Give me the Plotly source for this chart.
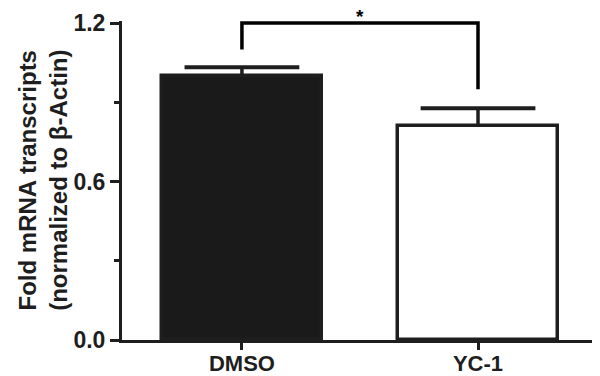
import plotly.graph_objects as go

categories = ["DMSO", "YC-1"]
means = [1.0, 0.81]
errors_up = [0.033, 0.068]
bar_colors = ["#1a1a1a", "#ffffff"]

y_tickvals = [0.0, 0.6, 1.2]
y_ticktext = ["0.0", "0.6", "1.2"]
y_title_lines = ["Fold mRNA transcripts", "(normalized to β-Actin)"]

bracket_x = [0, 0, 1, 1]
bracket_y = [1.10, 1.2, 1.2, 0.95]
sig_label = "*"

ink = "#1e1e1e"
font_family = "Liberation Sans, Arial, sans-serif"

fig = go.Figure()
fig.add_trace(go.Bar(
    x=categories, y=means,
    marker=dict(color=bar_colors, line=dict(color=ink, width=3.5)),
    width=0.68,
    error_y=dict(type="data", symmetric=False, array=errors_up,
                 arrayminus=[0, 0], color=ink, thickness=3.5, width=0),
    showlegend=False,
))
# error bar caps (top only)
fig.add_trace(go.Scatter(
    x=categories, y=[m + e for m, e in zip(means, errors_up)],
    mode="markers",
    marker=dict(symbol="line-ew-open", size=82, color=ink,
                line=dict(color=ink, width=4)),
    showlegend=False, hoverinfo="skip", cliponaxis=False,
))

path = "M " + " L ".join(f"{x},{y}" for x, y in zip(bracket_x, bracket_y))
fig.add_shape(type="path", path=path, xref="x", yref="y",
              line=dict(color="black", width=3.5))

fig.add_annotation(x=0.5, y=max(bracket_y), xref="x", yref="y",
                   text=f"<b>{sig_label}</b>", showarrow=False,
                   yanchor="bottom", yshift=-6,
                   font=dict(size=19, color="black", family=font_family))

for xpos, line in zip([-0.200, -0.134], y_title_lines):
    fig.add_annotation(x=xpos, y=0.5, xref="paper", yref="paper",
                       text=f"<b>{line}</b>",
                       textangle=-90, showarrow=False, xanchor="center", yanchor="middle",
                       font=dict(size=24, color=ink, family=font_family))

fig.update_layout(
    template="none",
    width=592, height=368,
    margin=dict(l=114, r=3, t=13, b=36, autoexpand=False),
    plot_bgcolor="white", paper_bgcolor="white",
    font=dict(family=font_family, color=ink),
    bargap=0,
)
fig.update_xaxes(
    automargin=False,
    range=[-0.508, 1.504], showgrid=False, zeroline=False,
    showline=True, linecolor=ink, linewidth=3,
    ticks="outside", ticklen=7, tickwidth=3, tickcolor=ink,
    tickfont=dict(size=22, color=ink, family=font_family),
    tickprefix="<b>", ticksuffix="</b>",
    ticklabelstandoff=-5,
)
fig.update_yaxes(
    automargin=False,
    range=[0, 1.208], showgrid=False, zeroline=False,
    showline=True, linecolor=ink, linewidth=3,
    tickvals=y_tickvals, ticktext=[f"<b>{t}</b>" for t in y_ticktext],
    ticks="outside", ticklen=9, tickwidth=3, tickcolor=ink,
    tickfont=dict(size=23, color=ink, family=font_family),
    minor=dict(dtick=0.3, tick0=0, ticks="outside", ticklen=5, tickwidth=3, tickcolor=ink),
)

fig.write_html("out.html")
